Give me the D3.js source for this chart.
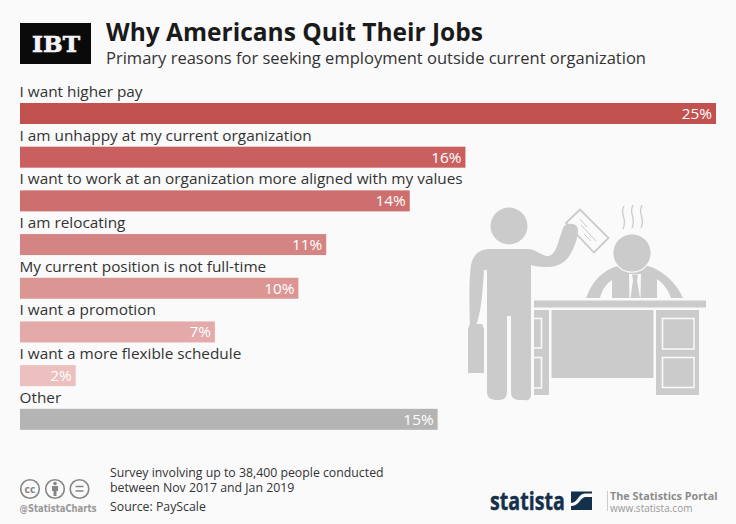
<!DOCTYPE html>
<html><head><meta charset="utf-8">
<script src="https://cdnjs.cloudflare.com/ajax/libs/d3/7.8.5/d3.min.js"></script>
<style>html,body{margin:0;padding:0;background:#fafafa}svg{display:block}text{font-family:"Open Sans",sans-serif}</style>
</head><body><svg id="c" width="736" height="524"></svg>
<script>
const categories=["I want higher pay","I am unhappy at my current organization","I want to work at an organization more aligned with my values","I am relocating","My current position is not full-time","I want a promotion","I want a more flexible schedule","Other"];
const values=[25,16,14,11,10,7,2,15];
const barColors=["#c15250","#c9605f","#cd6f6e","#d48583","#db9694","#e3aaa9","#ebc0bf","#b4b4b4"];
const titleText="Why Americans Quit Their Jobs";
const subtitleText="Primary reasons for seeking employment outside current organization";
const noteLines=["Survey involving up to 38,400 people conducted","between Nov 2017 and Jan 2019"];
const sourceText="Source: PayScale";

const svg=d3.select("#c");
svg.append("rect").attr("width",736).attr("height",524).attr("fill","#fafafa");

const x=d3.scaleLinear().domain([0,25]).range([20,716]);
const y=d3.scaleBand().domain(categories).range([81.5,431]);
const barH=21;

// header
svg.append("rect").attr("x",20).attr("y",23).attr("width",71).attr("height",41).attr("fill","#0a0a0a");
svg.append("text").attr("x",56).attr("y",52).attr("text-anchor","middle").attr("fill","#f4f4f4").attr("stroke","#f4f4f4").attr("stroke-width",0.6)
  .attr("font-size",22).attr("font-weight",700).style("font-family","'DejaVu Serif',serif").attr("textLength",48).attr("lengthAdjust","spacingAndGlyphs").text("IBT");
svg.append("text").attr("x",106).attr("y",41).attr("font-size",24.5).attr("font-weight",700).attr("fill","#1a1a1a").text(titleText);
svg.append("text").attr("x",106).attr("y",64).attr("font-size",16.52).attr("fill","#333").text(subtitleText);

// bars
const rows=svg.append("g").selectAll("g").data(categories).join("g");
rows.append("text").attr("x",19.5).attr("y",c=>y(c)+15.5).attr("font-size",15.35).attr("fill","#333").text(c=>c);
rows.append("rect").attr("x",x(0)).attr("y",c=>y(c)+21.5).attr("height",barH)
  .attr("width",(c,i)=>x(values[i])-x(0)).attr("fill",(c,i)=>barColors[i]);
rows.append("text").attr("x",(c,i)=>x(values[i])-4).attr("y",c=>y(c)+37.5).attr("text-anchor","end")
  .attr("font-size",15.35).attr("fill","#fff").text((c,i)=>values[i]+"%");

// illustration
const G="#cbcbcb",W="#fafafa";
const g=svg.append("g").attr("fill",G);
// paper
g.append("path").attr("fill","none").attr("stroke",G).attr("stroke-width",1.8).attr("d","M580 209.5 L566 223 L594 252.5 L608.5 238 Z");
g.append("path").attr("fill","none").attr("stroke",G).attr("stroke-width",1).attr("d","M580 219 L587 227 M581 225 L596 241 M584 234 L591 241");
// man
g.append("circle").attr("cx",509).attr("cy",226).attr("r",18.5);
g.append("path").attr("d","M490 249 H528 C534 249 540 254 546 256 C553 257 556 250 559 240 L563 228 C565 222 578 222 578 230 C578 240 572 254 566 260 C558 268 546 268 534 266 L531 265 V394 C531 402 526 400 520 400 C514 400 511 398 511 392 V316 H507 V392 C507 399 503 400 497 400 C491 400 487 398 487 392 V270 L484 270 C483 285 482 310 476 326 H470 C469 300 469 280 471 265 C473 254 480 249 490 249Z");
g.append("path").attr("d","M468 329 L470 324 H482 L484 329 V373 H468Z");
// seated man
g.append("path").attr("d","M586 298 C592 282 602 270 618 266 H648 C662 270 676 282 683 298 H671 C668 290 664 284 657 279 V298 H612 V280 C606 284 602 290 600 298Z");
g.append("circle").attr("cx",632).attr("cy",253).attr("r",19.2).attr("stroke",W).attr("stroke-width",1.2);
g.append("path").attr("fill",W).attr("d","M629 274 H641 L640.5 298 H629.5Z");
g.append("path").attr("d","M632 274.5 H638 L637 280 L640 298 H630.5 L633 280Z");
// steam
g.append("path").attr("fill","none").attr("stroke",G).attr("stroke-width",1.3)
 .attr("d","M624 206 C619 214 628 218 623 229 M633 205 C628 214 637 218 632 228 M642 205 C637 214 646 218 641 228");
// desk
g.append("rect").attr("x",534).attr("y",300.5).attr("width",172).attr("height",7);
g.append("rect").attr("x",551.5).attr("y",310).attr("width",102).attr("height",68);
g.append("rect").attr("x",534).attr("y",310).attr("width",15).attr("height",85);
g.append("rect").attr("x",656).attr("y",310).attr("width",43).attr("height",85);
const ds=g.append("g").attr("fill","none").attr("stroke",W).attr("stroke-width",1.5);
ds.append("path").attr("d","M534 318.5 H541.5 V348 H534 M534 357.5 H541.5 V388 H534");
ds.append("rect").attr("x",662.5).attr("y",318.5).attr("width",31.5).attr("height",30.5);
ds.append("rect").attr("x",662.5).attr("y",357.5).attr("width",31.5).attr("height",30);

// footer icons
const I="#858585";
const icons=svg.append("g").attr("fill","none").attr("stroke",I).attr("stroke-width",1.6);
[30,55,79.5].forEach(cx=>icons.append("circle").attr("cx",cx).attr("cy",489).attr("r",9.3));
svg.append("text").attr("x",30).attr("y",492.5).attr("text-anchor","middle").attr("font-size",10.5).attr("font-weight",700).attr("fill",I).text("cc");
svg.append("circle").attr("cx",55).attr("cy",483.5).attr("r",1.8).attr("fill",I);
svg.append("path").attr("d","M52 486 H58 V491 H56.5 V496 H53.5 V491 H52Z").attr("fill",I);
svg.append("path").attr("d","M75.5 486.5 H83.5 M75.5 491 H83.5").attr("stroke",I).attr("stroke-width",1.7);
svg.append("text").attr("x",19.5).attr("y",511.5).attr("font-size",9.6).attr("font-weight",600).attr("fill","#999").style("font-family","'DejaVu Sans',sans-serif").attr("textLength",77).attr("lengthAdjust","spacingAndGlyphs").text("@StatistaCharts");

// footer notes
const note=svg.append("text").attr("font-size",12.3).attr("fill","#333");
noteLines.forEach((t,i)=>note.append("tspan").attr("x",110).attr("y",477+i*14.5).text(t));
svg.append("text").attr("x",110).attr("y",511).attr("font-size",12.3).attr("fill","#333").text(sourceText);

// statista logo
svg.append("text").attr("x",490).attr("y",510).attr("font-size",25).attr("font-weight",700).attr("fill","#15304b").attr("textLength",75).attr("lengthAdjust","spacingAndGlyphs").attr("stroke","#15304b").attr("stroke-width",0.4).text("statista");
svg.append("rect").attr("x",571).attr("y",491.5).attr("width",21).attr("height",18.5).attr("fill","#15304b");
svg.append("path").attr("d","M571 506 C579 506 580 498 585 497 H592 V493.5 H585 C578 493.5 578 503 571 503Z").attr("fill","#fafafa");
svg.append("rect").attr("x",607).attr("y",491).attr("width",1).attr("height",20).attr("fill","#ccc");
const portal=svg.append("text");
portal.append("tspan").attr("x",610).attr("y",500).attr("font-size",10.8).attr("font-weight",700).attr("fill","#8c8c8c").text("The Statistics Portal");
portal.append("tspan").attr("x",610).attr("y",511.5).attr("font-size",10).attr("fill","#999").text("www.statista.com");
</script></body></html>
